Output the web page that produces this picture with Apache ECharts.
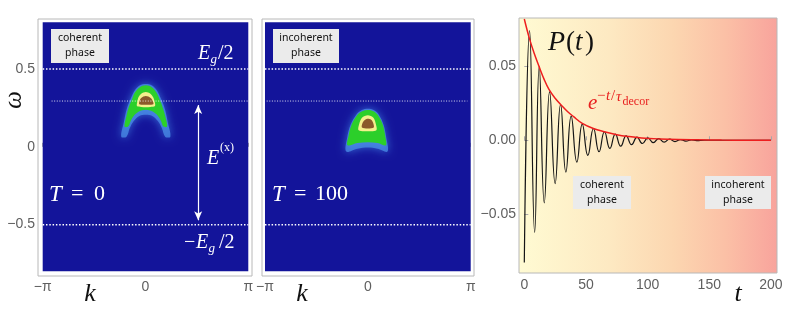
<!DOCTYPE html>
<html><head><meta charset="utf-8">
<script src="https://cdn.jsdelivr.net/npm/echarts@6/dist/echarts.min.js"></script>
<style>html,body{margin:0;padding:0;background:#fff}#c{width:789px;height:320px}</style>
</head><body><div id="c"></div>
<script>
const PI = Math.PI;
// ---------- axes ----------
const kTicks = [-PI, 0, PI];
const kTickLabels = ['−π', '0', 'π'];
const wTicks = [-0.5, 0, 0.5];
const wTickLabels = ['−0.5', '0', '0.5'];
const tTicks = [0, 50, 100, 150, 200];
const pTicks = [-0.05, 0, 0.05];
const pTickLabels = ['−0.05', '0.00', '0.05'];

// ---------- spectral panels ----------
const bandK = [-PI, PI];
const bandW = [-0.8, 0.8];
const gapLevels = [0.5, -0.5];          // ±E_g/2
const excitonLevel = 0.294;
const excitonSpanT0 = [-2.87, PI];
const excitonSpanT100 = [-3.09, 3.04];
const arrowK = 1.61;
const arrowW = [0.268, -0.472];

// T = 0 contours (k, ω)
const t0Fringe = [[-0.74,0.065],[-0.66,0.16],[-0.57,0.245],[-0.45,0.31],[-0.33,0.362],[-0.18,0.394],[0.01,0.403],[0.2,0.394],[0.35,0.362],[0.47,0.31],[0.59,0.245],[0.68,0.16],[0.76,0.065],
                  [0.6,0.065],[0.5,0.12],[0.38,0.165],[0.21,0.198],[0.01,0.206],[-0.19,0.198],[-0.36,0.165],[-0.48,0.12],[-0.58,0.065]];
const t0Green = [[-0.64,0.13],[-0.58,0.2],[-0.52,0.25],[-0.42,0.3],[-0.32,0.35],[-0.17,0.383],[0.01,0.395],[0.19,0.383],[0.33,0.35],[0.44,0.3],[0.53,0.25],[0.6,0.2],[0.66,0.13],
                 [0.55,0.13],[0.47,0.168],[0.38,0.198],[0.22,0.226],[0.01,0.238],[-0.2,0.226],[-0.36,0.198],[-0.45,0.168],[-0.53,0.13]];
const t0Yellow = [[-0.26,0.262],[-0.25,0.29],[-0.21,0.32],[-0.13,0.341],[0.01,0.352],[0.15,0.341],[0.23,0.32],[0.28,0.29],[0.29,0.262],[0.15,0.256],[0.01,0.254],[-0.13,0.256]];
const t0Brown = [[-0.19,0.274],[-0.18,0.295],[-0.13,0.314],[0.01,0.326],[0.16,0.314],[0.22,0.295],[0.24,0.274],[0.01,0.27]];

// T = 100 contours (k, ω)
const t100Fringe = [[-0.66,-0.03],[-0.63,0.06],[-0.53,0.14],[-0.36,0.205],[-0.18,0.236],[0,0.245],[0.18,0.236],[0.34,0.205],[0.48,0.14],[0.56,0.06],[0.6,-0.03],[0.3,-0.012],[0,-0.004],[-0.32,-0.012]];
const t100Green = [[-0.62,0.01],[-0.59,0.07],[-0.5,0.14],[-0.34,0.2],[-0.17,0.228],[0,0.236],[0.17,0.228],[0.32,0.2],[0.46,0.14],[0.53,0.07],[0.55,0.01],[0.3,0.024],[0,0.03],[-0.32,0.024]];
const t100Yellow = [[-0.28,0.106],[-0.26,0.15],[-0.18,0.187],[0,0.203],[0.17,0.187],[0.24,0.15],[0.26,0.106],[0,0.1]];
const t100Brown = [[-0.18,0.124],[-0.16,0.155],[-0.08,0.174],[0,0.18],[0.1,0.174],[0.16,0.155],[0.18,0.124],[0,0.118]];

// ---------- P(t) panel ----------
const oscT = [0,4.3,8.4,12.1,16.2,20.5,25.0,29.4,33.7,38.0,42.6,47.0,51.5,56.1,60.6,65.0,69.4,73.8,78.2,82.6,87.0,91.4,95.8,100.2,104.6,109.0,113.4,117.8,122.2,126.6,131.0,135.4,139.8,146,200];
const oscP = [-0.083,0.0745,-0.0625,0.050,-0.0425,0.033,-0.0295,0.0243,-0.0216,0.0164,-0.0148,0.0109,-0.0102,0.0080,-0.0078,0.0058,-0.0055,0.0042,-0.0040,0.0030,-0.0030,0.0022,-0.0022,0.0016,-0.0016,0.0011,-0.0012,0.0008,-0.0009,0.0005,-0.0006,0.0003,-0.0003,0,0];
const envT = [0,4,8,12,16,20,25,30,35,40,47,56,65,75,85,95,110,125,140,160,180,200];
const envP = [0.0823,0.0695,0.059,0.050,0.0415,0.0345,0.0285,0.0238,0.0195,0.016,0.0115,0.008,0.0058,0.0038,0.0025,0.0016,0.0009,0.0005,0.0003,0.0001,0.00005,0];

const serif = "'Liberation Serif','DejaVu Serif',serif";
const sans = "'Noto Sans','DejaVu Sans',sans-serif";
const tickFont = {fontFamily: "'Liberation Sans',Arial,sans-serif", fontSize: 14, color: '#5f5f5f'};

const chart = echarts.init(document.getElementById('c'), null, {renderer: 'canvas'});

function polySeries(g, pts, fill, z, extra) {
  return {
    type: 'custom', xAxisIndex: g, yAxisIndex: g, z: z, silent: true, clip: true,
    data: pts,
    renderItem: function (params, api) {
      if (params.dataIndex !== 0) return null;
      const points = pts.map(p => api.coord(p));
      return {type: 'polygon', shape: {points: points, smooth: (extra && extra.smooth) || 0.35},
        style: Object.assign({fill: fill}, (extra && extra.style) || {})};
    }
  };
}
function hLine(g, k0, k1, w, style, z) {
  return {type: 'line', xAxisIndex: g, yAxisIndex: g, z: z, silent: true, symbol: 'none',
    data: [[k0, w], [k1, w]], lineStyle: style, animation: false};
}
function bandRect(g) {
  const pts = [[bandK[0], bandW[0]], [bandK[1], bandW[0]], [bandK[1], bandW[1]], [bandK[0], bandW[1]]];
  return {type: 'custom', xAxisIndex: g, yAxisIndex: g, z: 1, silent: true, clip: true, data: pts,
    renderItem: function (params, api) {
      if (params.dataIndex !== 0) return null;
      const a = api.coord(pts[0]), b = api.coord(pts[2]);
      return {type: 'rect', shape: {x: a[0], y: b[1], width: b[0] - a[0], height: a[1] - b[1]}, style: {fill: '#13149a'}};
    }};
}

const fringeStyle = {style: {shadowBlur: 8, shadowColor: 'rgba(70,140,235,0.9)', opacity: 0.75}, smooth: 0.35};
const dotThick = {color: '#ffffff', width: 1.5, type: [1.5, 1.8]};
const dotThin = {color: 'rgba(255,255,255,0.85)', width: 1, type: [1, 1.6]};

function kAxis(g, min, max) {
  return {type: 'value', gridIndex: g, min: min, max: max,
    axisLine: {show: false}, splitLine: {show: false},
    axisTick: {show: true, inside: true, length: 4, lineStyle: {color: '#a8a8a8'}, customValues: kTicks},
    axisLabel: Object.assign({margin: 4, customValues: kTicks,
      formatter: v => kTickLabels[kTicks.findIndex(x => Math.abs(x - v) < 1e-6)]}, tickFont)};
}
function wAxis(g, show) {
  return {type: 'value', gridIndex: g, min: -0.83, max: 0.821,
    axisLine: {show: false}, splitLine: {show: false},
    axisTick: {show: true, inside: true, length: 4, lineStyle: {color: '#a8a8a8'}, customValues: wTicks},
    axisLabel: Object.assign({show: show, margin: 3, customValues: wTicks,
      formatter: v => wTickLabels[wTicks.findIndex(x => Math.abs(x - v) < 1e-6)]}, tickFont)};
}

function txt(x, y, s, size, o) {
  o = o || {};
  return {type: 'text', x: x, y: y, z: 100, rotation: o.rot || 0, silent: true,
    style: {text: s, font: (o.it ? 'italic ' : '') + size + 'px ' + (o.family || serif),
      fill: o.fill || '#ffffff', textAlign: o.align || 'left', textVerticalAlign: 'middle'}};
}
function box(x, y, w, h, l1, l2) {
  return [
    {type: 'rect', z: 99, silent: true, shape: {x: x, y: y, width: w, height: h}, style: {fill: '#ebebeb'}},
    txt(x + w / 2, y + 9.5, l1, 10.5, {family: sans, fill: '#111', align: 'center'}),
    txt(x + w / 2, y + 24, l2, 10.5, {family: sans, fill: '#111', align: 'center'})
  ];
}
const red = '#e8201f';
const graphics = [].concat(
  // panel 1
  box(51, 29, 58, 34, 'coherent', 'phase'),
  [txt(198, 54, 'E', 20, {it: true}), txt(210.5, 59.5, 'g', 13, {it: true}), txt(218, 54, '/2', 20),
   txt(207, 158.5, 'E', 20, {it: true}), txt(220, 148, '(x)', 12),
   txt(184, 243, '−', 20), txt(196, 243, 'E', 20, {it: true}), txt(208.5, 248.5, 'g', 13, {it: true}), txt(219, 243, '/2', 20),
   txt(49, 194.5, 'T', 23, {it: true}), txt(71, 194.5, '=', 22), txt(94, 194.5, '0', 22),
   txt(14, 100, 'ω', 25, {it: true, fill: '#111', align: 'center', rot: PI / 2}),
   txt(90, 294, 'k', 26, {it: true, fill: '#111', align: 'center'})],
  // panel 2
  box(273, 29, 66, 34, 'incoherent', 'phase'),
  [txt(272, 194.5, 'T', 23, {it: true}), txt(294, 194.5, '=', 22), txt(315, 194.5, '100', 22),
   txt(302, 294, 'k', 26, {it: true, fill: '#111', align: 'center'})],
  // panel 3
  box(573, 176, 58, 33, 'coherent', 'phase'),
  box(705, 176, 66, 33, 'incoherent', 'phase'),
  [txt(548, 43, 'P', 28, {it: true, fill: '#111'}), txt(566, 43, '(', 27, {fill: '#111'}),
   txt(575, 43, 't', 27, {it: true, fill: '#111'}), txt(585, 43, ')', 27, {fill: '#111'}),
   txt(588, 103, 'e', 21, {it: true, fill: red}),
   txt(597, 96, '−', 15, {fill: red}), txt(606, 96, 't', 15, {it: true, fill: red}),
   txt(611, 96, '/', 15, {fill: red}), txt(616, 97, 'τ', 15, {it: true, fill: red}),
   txt(622.5, 102, 'decor', 12, {fill: red}),
   txt(738, 294, 't', 26, {it: true, fill: '#111', align: 'center'})]
);

const option = {
  animation: false,
  grid: [
    {left: 38, top: 19, width: 214, height: 257, show: true, borderColor: '#b8b8b8', borderWidth: 1, backgroundColor: 'transparent'},
    {left: 262, top: 19, width: 212, height: 257, show: true, borderColor: '#b8b8b8', borderWidth: 1, backgroundColor: 'transparent'},
    {left: 519, top: 18, width: 258, height: 255, show: true, borderColor: '#b8b8b8', borderWidth: 1,
     backgroundColor: new echarts.graphic.LinearGradient(0, 0, 1, 0, [
       {offset: 0, color: '#fffbd3'}, {offset: 0.35, color: '#fde9c2'}, {offset: 0.6, color: '#fcd6b0'},
       {offset: 0.8, color: '#fbc0a6'}, {offset: 1, color: '#f8a39c'}])}
  ],
  xAxis: [
    kAxis(0, -3.285, 3.255),
    kAxis(1, -3.233, 3.242),
    {type: 'value', gridIndex: 2, min: -4.3, max: 204.9, axisLine: {show: false}, splitLine: {show: false},
     axisTick: {show: true, inside: true, length: 4, lineStyle: {color: '#a8a8a8'}, customValues: tTicks},
     axisLabel: Object.assign({margin: 5, customValues: tTicks}, tickFont)}
  ],
  yAxis: [
    wAxis(0, true),
    wAxis(1, false),
    {type: 'value', gridIndex: 2, min: -0.0901, max: 0.083, axisLine: {show: false}, splitLine: {show: false},
     axisTick: {show: true, inside: true, length: 4, lineStyle: {color: '#a8a8a8'}, customValues: pTicks},
     axisLabel: Object.assign({margin: 3, customValues: pTicks,
       formatter: v => pTickLabels[pTicks.findIndex(x => Math.abs(x - v) < 1e-9)]}, tickFont)}
  ],
  graphic: graphics,
  series: [
    bandRect(0), bandRect(1),
    polySeries(0, t0Fringe, '#4b8fe8', 2, fringeStyle),
    polySeries(0, t0Green, '#2ccf2a', 3),
    polySeries(0, t0Yellow, '#f4f08c', 4, {smooth: 0.3}),
    polySeries(0, t0Brown, '#8b5a2b', 5, {smooth: 0.3}),
    polySeries(1, t100Fringe, '#4b8fe8', 2, fringeStyle),
    polySeries(1, t100Green, '#2ccf2a', 3),
    polySeries(1, t100Yellow, '#f4f08c', 4, {smooth: 0.3}),
    polySeries(1, t100Brown, '#8b5a2b', 5, {smooth: 0.3}),
    hLine(0, bandK[0], bandK[1], gapLevels[0], dotThick, 6),
    hLine(0, bandK[0], bandK[1], gapLevels[1], dotThick, 6),
    hLine(0, excitonSpanT0[0], excitonSpanT0[1], excitonLevel, dotThin, 6),
    hLine(1, bandK[0], bandK[1], gapLevels[0], dotThick, 6),
    hLine(1, bandK[0], bandK[1], gapLevels[1], dotThick, 6),
    hLine(1, excitonSpanT100[0], excitonSpanT100[1], excitonLevel, dotThin, 6),
    {type: 'line', xAxisIndex: 0, yAxisIndex: 0, data: [], z: 7, silent: true,
     markLine: {silent: true, symbol: ['arrow', 'arrow'], symbolSize: [6, 9], label: {show: false},
       lineStyle: {color: '#ffffff', width: 1.2, type: 'solid'}, animation: false,
       data: [[{coord: [arrowK, arrowW[0]]}, {coord: [arrowK, arrowW[1]]}]]}},
    {type: 'line', xAxisIndex: 2, yAxisIndex: 2, z: 3, silent: true, symbol: 'none', smooth: 0.5,
     data: oscT.map((t, i) => [t, oscP[i]]), lineStyle: {color: '#151515', width: 1.2}},
    {type: 'line', xAxisIndex: 2, yAxisIndex: 2, z: 4, silent: true, symbol: 'none', smooth: 0.4,
     data: envT.map((t, i) => [t, envP[i]]), lineStyle: {color: '#ee1e1e', width: 1.5}}
  ]
};
chart.setOption(option);
</script></body></html>
